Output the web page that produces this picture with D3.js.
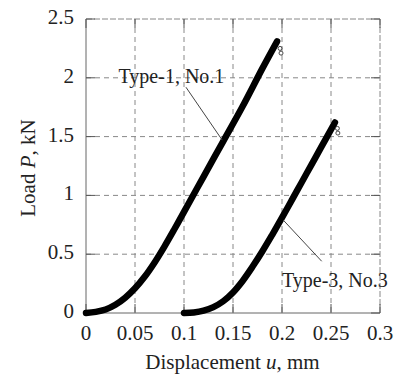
<!DOCTYPE html>
<html><head><meta charset="utf-8">
<script src="https://cdn.jsdelivr.net/npm/d3@7"></script>
<style>
body{margin:0;background:#fff;}
text{font-family:"Liberation Serif","Times New Roman",serif;fill:#222;}
</style></head>
<body>
<svg id="c" width="395" height="377"></svg>
<script>
// Data
const u1 = [0, 0.01, 0.02, 0.03, 0.04, 0.05, 0.06, 0.07, 0.08, 0.09, 0.1, 0.12, 0.14, 0.16, 0.18, 0.195];
const P1 = [0, 0.01, 0.03, 0.07, 0.13, 0.21, 0.31, 0.43, 0.565, 0.71, 0.86, 1.16, 1.46, 1.76, 2.08, 2.31];
const end1U = [0.198, 0.199];
const end1P = [2.25, 2.21];
const u2 = [0.1, 0.11, 0.12, 0.13, 0.14, 0.15, 0.16, 0.17, 0.18, 0.19, 0.2, 0.21, 0.22, 0.23, 0.24, 0.254];
const P2 = [0, 0.005, 0.02, 0.05, 0.10, 0.175, 0.275, 0.395, 0.525, 0.665, 0.81, 0.96, 1.11, 1.26, 1.41, 1.62];
const end2U = [0.2565, 0.257];
const end2P = [1.57, 1.53];
const xTicks = [0, 0.05, 0.1, 0.15, 0.2, 0.25, 0.3];
const xTickLabels = ["0", "0.05", "0.1", "0.15", "0.2", "0.25", "0.3"];
const yTicks = [0, 0.5, 1, 1.5, 2, 2.5];
const yTickLabels = ["0", "0.5", "1", "1.5", "2", "2.5"];
const labels = ["Type-1, No.1", "Type-3, No.3"];
const labelPos = [[0.0872, 1.96], [0.254, 0.22]];
const leaders = [[[0.102, 1.92], [0.139, 1.47]], [[0.2013, 0.79], [0.2405, 0.44]]];

const svg = d3.select("#c");
const L = 86, R = 380, T = 19, B = 313;
const x = d3.scaleLinear().domain([0, 0.3]).range([L, R]);
const y = d3.scaleLinear().domain([0, 2.5]).range([B, T]);
const grid = "#888";

// gridlines
const g = svg.append("g");
g.selectAll(".vg").data(xTicks.slice(1, -1)).join("line")
  .attr("x1", d => x(d)).attr("x2", d => x(d)).attr("y1", T).attr("y2", B)
  .attr("stroke", grid).attr("stroke-width", 1).attr("stroke-dasharray", "5,4");
g.selectAll(".hg").data(yTicks.slice(1, -1)).join("line")
  .attr("y1", d => y(d)).attr("y2", d => y(d)).attr("x1", L).attr("x2", R)
  .attr("stroke", grid).attr("stroke-width", 1).attr("stroke-dasharray", "5,4");

// frame
g.append("line").attr("x1", L).attr("x2", R).attr("y1", T).attr("y2", T).attr("stroke", grid).attr("stroke-dasharray", "6,2");
g.append("line").attr("x1", R).attr("x2", R).attr("y1", T).attr("y2", B).attr("stroke", grid).attr("stroke-dasharray", "6,2");
g.append("line").attr("x1", L).attr("x2", L).attr("y1", T).attr("y2", B).attr("stroke", "#666");
g.append("line").attr("x1", L).attr("x2", R).attr("y1", B).attr("y2", B).attr("stroke", "#666");

// inward ticks on all sides
const tl = 9;
g.selectAll(".tb").data(xTicks).join("line")
  .attr("x1", d => x(d)).attr("x2", d => x(d)).attr("y1", B).attr("y2", B - tl).attr("stroke", "#555");
g.selectAll(".tt").data(xTicks).join("line")
  .attr("x1", d => x(d)).attr("x2", d => x(d)).attr("y1", T).attr("y2", T + tl).attr("stroke", "#555");
g.selectAll(".tlft").data(yTicks).join("line")
  .attr("y1", d => y(d)).attr("y2", d => y(d)).attr("x1", L).attr("x2", L + tl).attr("stroke", "#555");
g.selectAll(".trt").data(yTicks).join("line")
  .attr("y1", d => y(d)).attr("y2", d => y(d)).attr("x1", R).attr("x2", R - tl).attr("stroke", "#555");

// tick labels
svg.selectAll(".xl").data(xTicks).join("text")
  .attr("x", d => x(d)).attr("y", 340).attr("text-anchor", "middle")
  .attr("font-size", 21).text((d, i) => xTickLabels[i]);
svg.selectAll(".yl").data(yTicks).join("text")
  .attr("x", 74).attr("y", d => y(d) + 5).attr("text-anchor", "end")
  .attr("font-size", 21).text((d, i) => yTickLabels[i]);

// axis titles
const xt = svg.append("text").attr("x", 232.5).attr("y", 369).attr("text-anchor", "middle").attr("font-size", 21);
xt.append("tspan").text("Displacement ");
xt.append("tspan").attr("font-style", "italic").text("u");
xt.append("tspan").text(", mm");
const yt = svg.append("text").attr("transform", "translate(35,168) rotate(-90)").attr("text-anchor", "middle").attr("font-size", 21);
yt.append("tspan").text("Load ");
yt.append("tspan").attr("font-style", "italic").text("P");
yt.append("tspan").text(", kN");

// curves
const line = d3.line().x(d => x(d[0])).y(d => y(d[1])).curve(d3.curveCatmullRom.alpha(0.5));
const s1 = u1.map((u, i) => [u, P1[i]]);
const s2 = u2.map((u, i) => [u, P2[i]]);
[s1, s2].forEach(s => {
  svg.append("path").attr("d", line(s)).attr("fill", "none").attr("stroke", "#000")
    .attr("stroke-width", 6.5).attr("stroke-linecap", "round").attr("stroke-linejoin", "round");
});
[[end1U, end1P], [end2U, end2P]].forEach(([us, ps]) => {
  svg.selectAll(null).data(us).join("circle")
    .attr("cx", (d) => x(d)).attr("cy", (d, i) => y(ps[i])).attr("r", 2)
    .attr("fill", "none").attr("stroke", "#333").attr("stroke-width", 0.9);
});

// annotations
leaders.forEach(l => {
  svg.append("line").attr("x1", x(l[0][0])).attr("y1", y(l[0][1])).attr("x2", x(l[1][0])).attr("y2", y(l[1][1]))
    .attr("stroke", "#444").attr("stroke-width", 1);
});
labels.forEach((t, i) => {
  svg.append("text").attr("x", x(labelPos[i][0])).attr("y", y(labelPos[i][1]))
    .attr("text-anchor", "middle").attr("font-size", 20).text(t);
});
</script>
</body></html>
